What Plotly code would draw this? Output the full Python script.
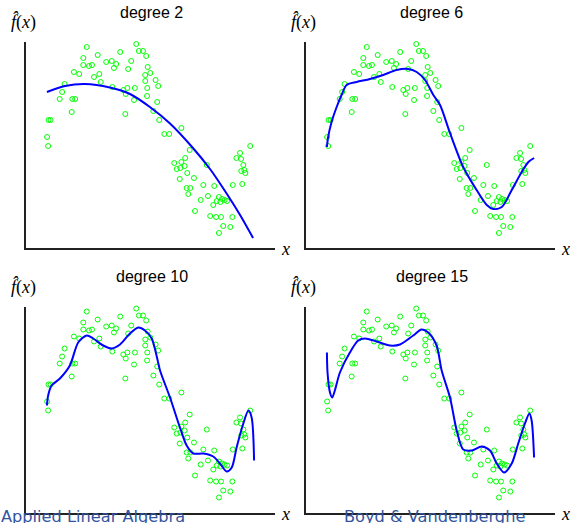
import plotly.graph_objects as go

# ---- data ----
data_x = [0.196, 0.440, 0.453, 0.473, 0.489, 0.361, 0.250, 0.179, 0.415, 0.292,
          0.319, 0.341, 0.179, 0.207, 0.222, 0.330, 0.496, 0.400, 0.509, 0.133,
          0.159, 0.232, 0.258, 0.484, 0.265, 0.484, 0.535, 0.087, 0.548, 0.322,
          0.433, 0.396, 0.376, 0.494, 0.075, 0.388, 0.493, 0.063, 0.125, 0.139,
          0.429, 0.543, 0.524, 0.122, 0.386, 0.008, 0.018, 0.553, 0.001, 0.006,
          0.662, 0.578, 0.602, 1.001, 0.703, 0.951, 0.933, 0.956, 0.681, 0.627,
          0.662, 0.967, 0.678, 0.657, 0.639, 0.787, 0.972, 0.957, 0.977, 0.691,
          0.654, 0.724, 0.962, 0.915, 0.770, 0.824, 0.688, 0.706, 0.696, 0.793,
          0.757, 0.847, 0.862, 0.875, 0.887, 0.854, 0.836, 0.819, 0.729, 0.804,
          0.833, 0.857, 0.913, 0.868, 0.903, 0.847]
data_y = [2.01, 2.04, 1.97, 1.97, 1.92, 1.96, 1.93, 1.90, 1.87, 1.86,
          1.87, 1.84, 1.83, 1.82, 1.83, 1.80, 1.81, 1.79, 1.75, 1.76,
          1.74, 1.71, 1.74, 1.73, 1.66, 1.67, 1.68, 1.64, 1.62, 1.61,
          1.60, 1.60, 1.58, 1.60, 1.56, 1.54, 1.52, 1.49, 1.49, 1.49,
          1.48, 1.46, 1.37, 1.36, 1.34, 1.28, 1.28, 1.28, 1.11, 1.02,
          1.20, 1.14, 1.14, 1.02, 0.98, 0.95, 0.90, 0.89, 0.90, 0.85,
          0.86, 0.83, 0.82, 0.80, 0.79, 0.83, 0.78, 0.77, 0.75, 0.75,
          0.69, 0.70, 0.64, 0.63, 0.63, 0.62, 0.60, 0.60, 0.54, 0.52,
          0.48, 0.51, 0.49, 0.48, 0.47, 0.46, 0.47, 0.43, 0.37, 0.32,
          0.31, 0.31, 0.31, 0.22, 0.21, 0.15]

fit2_x = [0.0, 0.089, 0.187, 0.310, 0.409, 0.507, 0.606, 0.719, 0.803, 0.867, 0.951, 1.015]
fit2_y = [1.56, 1.62, 1.64, 1.605, 1.54, 1.41, 1.245, 1.00, 0.79, 0.60, 0.33, 0.10]

fit6_x = [0.0, 0.006, 0.023, 0.048, 0.072, 0.097, 0.146, 0.212, 0.277, 0.343, 0.400,
          0.442, 0.483, 0.524, 0.557, 0.606, 0.671, 0.737, 0.787, 0.819, 0.861,
          0.910, 0.959, 0.992, 1.020]
fit6_y = [1.01, 1.11, 1.26, 1.41, 1.53, 1.63, 1.66, 1.69, 1.73, 1.78, 1.79,
          1.76, 1.68, 1.53, 1.43, 1.15, 0.81, 0.58, 0.43, 0.39, 0.41,
          0.58, 0.76, 0.86, 0.90]

fit10_x = [0.0, 0.006, 0.023, 0.064, 0.113, 0.154, 0.196, 0.228, 0.277, 0.319, 0.360,
           0.409, 0.450, 0.483, 0.516, 0.542, 0.557, 0.606, 0.655, 0.688, 0.721,
           0.770, 0.819, 0.852, 0.885, 0.910, 0.934, 0.967, 0.992, 1.008, 1.020]
fit10_y = [1.07, 1.17, 1.27, 1.34, 1.47, 1.70, 1.77, 1.74, 1.67, 1.64, 1.68,
           1.79, 1.85, 1.82, 1.74, 1.55, 1.42, 1.15, 0.85, 0.67, 0.59,
           0.59, 0.56, 0.49, 0.41, 0.45, 0.65, 0.89, 1.02, 0.95, 0.52]

fit15_x = [0.0, 0.003, 0.015, 0.026, 0.039, 0.064, 0.113, 0.154, 0.187, 0.245, 0.310,
           0.360, 0.425, 0.466, 0.499, 0.540, 0.565, 0.606, 0.639, 0.671, 0.713,
           0.762, 0.803, 0.836, 0.872, 0.910, 0.942, 0.975, 0.997, 1.008, 1.020]
fit15_y = [1.60, 1.40, 1.20, 1.15, 1.22, 1.40, 1.60, 1.72, 1.74, 1.71, 1.67,
           1.68, 1.77, 1.83, 1.80, 1.67, 1.42, 1.15, 0.82, 0.63, 0.62,
           0.66, 0.62, 0.49, 0.40, 0.49, 0.69, 0.89, 0.99, 0.92, 0.55]

titles = ["degree 2", "degree 6", "degree 10", "degree 15"]
fits = [(fit2_x, fit2_y), (fit6_x, fit6_y), (fit10_x, fit10_y), (fit15_x, fit15_y)]

# ---- layout geometry (page pixels) ----
W, H = 571, 523
x_range = [-0.103, 1.123]
y_range = [0.0, 2.06]
panels = [  # left, right, top, bottom in page pixels
    (26, 275, 42, 248),
    (306, 555, 42, 248),
    (26, 275, 306.5, 512.5),
    (306, 555, 306.5, 512.5),
]


def px(v):
    return v / W


def py(v):
    return 1 - v / H


fig = go.Figure()
annotations = []
for i, ((l, r, t, b), title, (fx, fy)) in enumerate(zip(panels, titles, fits)):
    n = "" if i == 0 else str(i + 1)
    xa, ya = "x" + n, "y" + n
    fig.add_trace(go.Scatter(x=data_x, y=data_y, mode="markers", xaxis=xa, yaxis=ya,
                             marker=dict(symbol="circle-open", size=5, color="#00FF00",
                                         line=dict(width=1, color="#00FF00")),
                             showlegend=False, hoverinfo="skip", cliponaxis=False))
    fig.add_trace(go.Scatter(x=fx, y=fy, mode="lines", xaxis=xa, yaxis=ya,
                             line=dict(color="#0000FF", width=2, shape="spline", smoothing=0.8),
                             showlegend=False, hoverinfo="skip"))
    axcommon = dict(showgrid=False, zeroline=False, showticklabels=False, ticks="",
                    showline=True, linecolor="#222222", linewidth=1.5, mirror=False, fixedrange=True)
    fig.update_layout(**{
        ("xaxis" + n): dict(domain=[px(l), px(r)], range=x_range, anchor=ya, **axcommon),
        ("yaxis" + n): dict(domain=[py(b), py(t)], range=y_range, anchor=xa, **axcommon),
    })
    cx = (l + r) / 2 + 1
    annotations.append(dict(text=title, x=px(cx), y=py(t - 30), xref="paper", yref="paper",
                            showarrow=False, xanchor="center", yanchor="middle",
                            font=dict(family="Liberation Sans, Arial", size=16, color="black")))
    annotations.append(dict(text="<i>f̂</i>(<i>x</i>)", x=px(l - 3), y=py(t - 20),
                            xref="paper", yref="paper", showarrow=False, xanchor="center",
                            yanchor="middle",
                            font=dict(family="Liberation Serif, Times New Roman", size=18, color="black")))
    annotations.append(dict(text="<i>x</i>", x=px(r + 10), y=py(b + 1),
                            xref="paper", yref="paper", showarrow=False, xanchor="center",
                            yanchor="middle",
                            font=dict(family="Liberation Serif, Times New Roman", size=18, color="black")))

annotations.append(dict(text="Applied Linear Algebra", x=px(-1), y=py(516.5), xref="paper", yref="paper",
                        showarrow=False, xanchor="left", yanchor="middle",
                        font=dict(family="DejaVu Sans", size=16.2, color="#3355A0")))
annotations.append(dict(text="Boyd &amp; Vandenberghe", x=px(342), y=py(516.5), xref="paper", yref="paper",
                        showarrow=False, xanchor="left", yanchor="middle",
                        font=dict(family="DejaVu Sans", size=16.2, color="#3355A0")))

fig.update_layout(width=W, height=H, margin=dict(l=0, r=0, t=0, b=0),
                  paper_bgcolor="white", plot_bgcolor="rgba(0,0,0,0)",
                  annotations=annotations)
fig.write_html("out.html", config={"displayModeBar": False},
               post_script="document.body.style.margin='0';document.body.style.overflow='hidden';")
